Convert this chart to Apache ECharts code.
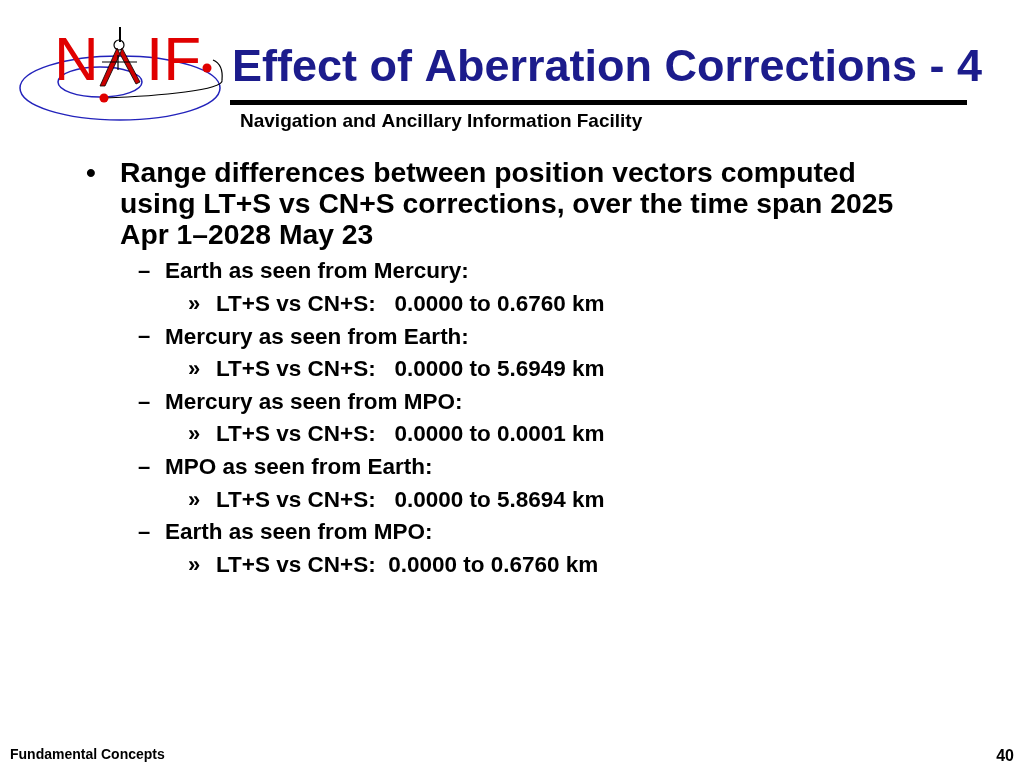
<!DOCTYPE html>
<html><head><meta charset="utf-8">
<script src="https://cdn.jsdelivr.net/npm/echarts@6/dist/echarts.min.js"></script>
<style>html,body{margin:0;padding:0;background:#fff}#c{width:1024px;height:768px}</style>
</head><body><div id="c"></div>
<script>
const titleText = "Effect of Aberration Corrections - 4";
const subtitleText = "Navigation and Ancillary Information Facility";
const bulletLines = ["Range differences between position vectors computed", "using LT+S vs CN+S corrections, over the time span 2025", "Apr 1\u20132028 May 23"];
const subItems = ["Earth as seen from Mercury:", "Mercury as seen from Earth:", "Mercury as seen from MPO:", "MPO as seen from Earth:", "Earth as seen from MPO:"];
const subValues = ["LT+S vs CN+S:   0.0000 to 0.6760 km", "LT+S vs CN+S:   0.0000 to 5.6949 km", "LT+S vs CN+S:   0.0000 to 0.0001 km", "LT+S vs CN+S:   0.0000 to 5.8694 km", "LT+S vs CN+S:  0.0000 to 0.6760 km"];
const footerLeft = "Fundamental Concepts";
const pageNumber = "40";

const F = 'Liberation Sans';
const g = [];
function txt(x, y, s, size, opts) {
  g.push({type:'text', x:x, y:y, style:Object.assign({text:s, fontFamily:F, fontWeight:'bold', fontSize:size, fill:'#000', verticalAlign:'middle'}, opts||{})});
}
// logo
g.push({type:'ellipse', shape:{cx:120,cy:88,rx:100,ry:32}, style:{fill:'none',stroke:'#2222bb',lineWidth:1.5}});
g.push({type:'ellipse', shape:{cx:100,cy:82,rx:42,ry:15}, style:{fill:'none',stroke:'#2222bb',lineWidth:1.5}});
g.push({type:'bezierCurve', shape:{x1:104,y1:98,x2:222,y2:80,cpx1:160,cpy1:96,cpx2:225,cpy2:90}, style:{stroke:'#000',lineWidth:1.2,fill:'none'}});
g.push({type:'bezierCurve', shape:{x1:213,y1:60,x2:222,y2:80,cpx1:220,cpy1:63,cpx2:223,cpy2:70}, style:{stroke:'#000',lineWidth:1.2,fill:'none'}});
g.push({type:'text', x:54, y:63, style:{text:'N', fontFamily:F, fontSize:62, fill:'#e00000', verticalAlign:'middle'}});
g.push({type:'text', x:146, y:63, style:{text:'IF', fontFamily:F, fontSize:62, fill:'#e00000', verticalAlign:'middle'}});
g.push({type:'line', shape:{x1:120,y1:27,x2:120,y2:42}, style:{stroke:'#000',lineWidth:2}});
g.push({type:'circle', shape:{cx:119,cy:45,r:5}, style:{fill:'none',stroke:'#000',lineWidth:1.2}});
g.push({type:'polygon', shape:{points:[[117,48],[100,86],[105,86],[120,54]]}, style:{fill:'#cc0000',stroke:'#000',lineWidth:0.8}});
g.push({type:'polygon', shape:{points:[[122,48],[140,82],[136,84],[120,54]]}, style:{fill:'#cc0000',stroke:'#000',lineWidth:0.8}});
g.push({type:'line', shape:{x1:102,y1:62,x2:137,y2:62}, style:{stroke:'#000',lineWidth:1.2}});
g.push({type:'line', shape:{x1:118,y1:55,x2:118,y2:70}, style:{stroke:'#000',lineWidth:1.2}});
g.push({type:'circle', shape:{cx:104,cy:98,r:4.5}, style:{fill:'#e00000'}});
g.push({type:'circle', shape:{cx:207,cy:68,r:4.5}, style:{fill:'#e00000'}});
// title
txt(232, 69, titleText, 45, {fill:'#1c1c8c'});
g.push({type:'rect', shape:{x:230,y:100,width:737,height:5}, style:{fill:'#000'}});
txt(240, 122, subtitleText, 19);
// bullet
txt(86, 174, '\u2022', 28);
bulletLines.forEach((s,i)=>txt(120, 174 + i*31, s, 28.3));
subItems.forEach((s,i)=>{
  const y = 272 + i*65.3;
  txt(138, y, '\u2013', 22);
  txt(165, y, s, 22.5);
  txt(188, y+32.6, '\u00bb', 22);
  txt(216, y+32.6, subValues[i], 22.5);
});
txt(10, 755, footerLeft, 14);
txt(1014, 757, pageNumber, 16, {align:'right'});

const chart = echarts.init(document.getElementById('c'));
chart.setOption({animation:false, graphic:{elements:g}});
</script></body></html>
